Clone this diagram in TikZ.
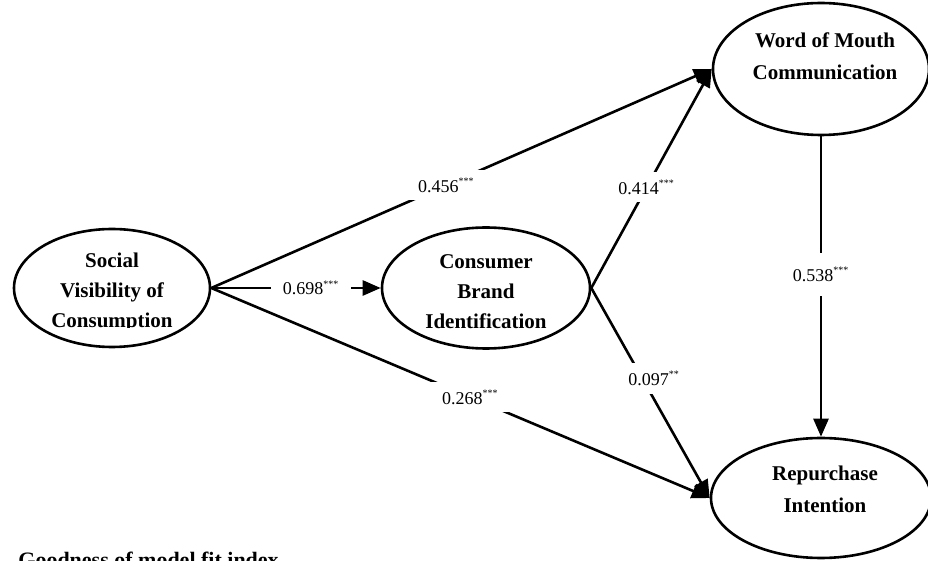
\documentclass[tikz,border=0pt]{standalone}
\usepackage{fontspec}
\setmainfont{Liberation Serif}
\usetikzlibrary{shapes.geometric}
\usetikzlibrary{arrows.meta}
\tikzstyle{construct}=[draw, ellipse, line width=1.3pt, inner sep=0]
\tikzstyle{construct text}=[align=center, inner sep=0, font=\fontsize{10.5}{15}\selectfont\bfseries]
\tikzstyle{effect}=[line width=1.3pt, -{Triangle[length=9pt, width=7.5pt]}]
\tikzstyle{estimate}=[fill=white, inner xsep=6pt, inner ysep=4pt, font=\fontsize{9}{10}\selectfont]
\newcommand{\sig}[1]{\textsuperscript{\tiny #1}}

\begin{document}
\begin{tikzpicture}[x=0.5pt, y=-0.5pt]
      \useasboundingbox (0, 0) rectangle (928, 561);
      \clip (0, 0) rectangle (928, 561);

      \node[construct, minimum width=98pt, minimum height=59pt] (social) at (112, 288) {};
      \node[construct, minimum width=104pt, minimum height=60.5pt] (brand) at (486, 288) {};
      \node[construct, minimum width=108pt, minimum height=66pt] (mouth) at (821, 69) {};
      \node[construct, minimum width=110pt, minimum height=60pt] (repurchase) at (821, 498) {};

      \begin{scope}
        \clip (0, 0) rectangle (928, 328);
        \node[construct text] (social_text) at (112, 292) {Social\\Visibility of\\Consumption};
      \end{scope}
      \node[construct text] (brand_text) at (486, 292) {Consumer\\Brand\\Identification};
      \node[construct text, font=\fontsize{10.5}{16}\selectfont\bfseries] (mouth_text) at (825, 56) {Word of Mouth\\Communication};
      \node[construct text, font=\fontsize{10.5}{16}\selectfont\bfseries] (repurchase_text) at (825, 489) {Repurchase\\Intention};

      \draw[effect] (social.east) to node[estimate, pos=0.59] {0.698\sig{***}} (brand.west);
      \draw[effect] (social.east) to node[estimate, pos=0.47] {0.456\sig{***}} (mouth.west);
      \draw[effect] (social.east) to node[estimate, pos=0.52] {0.268\sig{***}} (repurchase.west);
      \draw[effect] (brand.east) to node[estimate, pos=0.46] {0.414\sig{***}} (mouth.west);
      \draw[effect] (brand.east) to node[estimate, pos=0.43, xshift=6pt] {0.097\sig{**}} (repurchase.west);
      \draw[effect] (mouth.south) to node[estimate, pos=0.46, inner ysep=7pt] {0.538\sig{***}} (repurchase.north);

      \node[anchor=base west, inner sep=0, font=\fontsize{11}{12}\selectfont\bfseries] (fit_caption) at (18, 568) {Goodness of model fit index};
    \end{tikzpicture}
\end{document}
